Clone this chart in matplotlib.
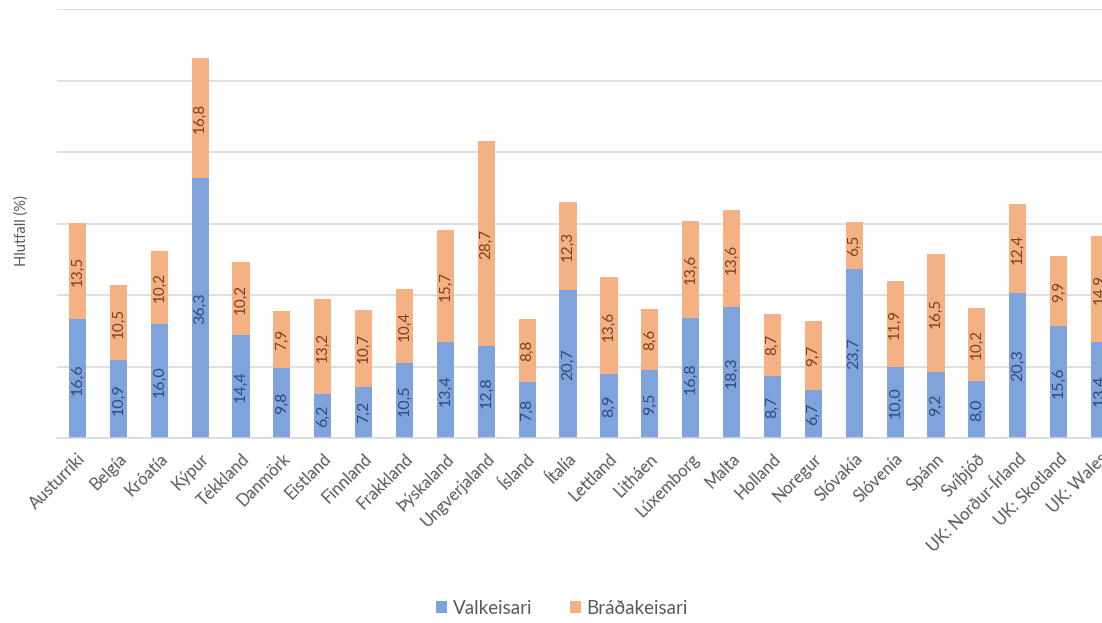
import numpy as np
import matplotlib.pyplot as plt

plt.rcParams['font.family'] = ['Lato', 'DejaVu Sans']

countries = ["Austurríki", "Belgía", "Króatía", "Kýpur", "Tékkland", "Danmörk",
             "Eistland", "Finnland", "Frakkland", "Þýskaland", "Ungverjaland",
             "Ísland", "Ítalía", "Lettland", "Litháen", "Lúxemborg", "Malta",
             "Holland", "Noregur", "Slóvakía", "Slóvenía", "Spánn", "Svíþjóð",
             "UK: Norður-Írland", "UK: Skotland", "UK: Wales"]
valkeisari = [16.6, 10.9, 16.0, 36.3, 14.4, 9.8, 6.2, 7.2, 10.5, 13.4, 12.8,
              7.8, 20.7, 8.9, 9.5, 16.8, 18.3, 8.7, 6.7, 23.7, 10.0, 9.2, 8.0,
              20.3, 15.6, 13.4]
bradakeisari = [13.5, 10.5, 10.2, 16.8, 10.2, 7.9, 13.2, 10.7, 10.4, 15.7, 28.7,
                8.8, 12.3, 13.6, 8.6, 13.6, 13.6, 8.7, 9.7, 6.5, 11.9, 16.5, 10.2,
                12.4, 9.9, 14.9]

blue = "#7fa3dd"
orange = "#f4b183"

fig = plt.figure(figsize=(11.02, 6.23), dpi=100)
# plot area runs past the right edge, so the last bar is cut off
ax = fig.add_axes([57 / 1102, 185 / 623, 1063 / 1102, 429 / 623])

x = np.arange(len(countries))
w = 0.42
b1 = ax.bar(x, valkeisari, w, color=blue, label="Valkeisari", zorder=2)
b2 = ax.bar(x, bradakeisari, w, bottom=valkeisari, color=orange,
            label="Bráðakeisari", zorder=2)

fmt = lambda v: f"{v:.1f}".replace(".", ",")
for xi, v, t in zip(x, valkeisari, bradakeisari):
    ax.text(xi, v / 2, fmt(v), rotation=90, ha="center", va="center",
            fontsize=11.5, color="#2f4a7a", zorder=3)
    ax.text(xi, v + t / 2, fmt(t), rotation=90, ha="center", va="center",
            fontsize=11, color="#7a4020", zorder=3)

ax.set_xlim(-0.5, 25.5)
ax.set_ylim(0, 60)
ax.set_yticks(np.arange(0, 61, 10))
ax.set_yticklabels([])
ax.tick_params(axis="y", length=0)
ax.grid(axis="y", color="#d9d9d9", linewidth=1.2, zorder=0)
for s in ["top", "right", "left"]:
    ax.spines[s].set_visible(False)
ax.spines["bottom"].set_color("#d9d9d9")
ax.spines["bottom"].set_linewidth(1.2)

ax.set_xticks(x)
ax.set_xticklabels(countries, rotation=45, ha="right", rotation_mode="anchor",
                   fontsize=12, color="#595959")
ax.tick_params(axis="x", length=0, pad=9)

fig.text(22 / 1102, 1 - 231 / 623, "Hlutfall (%)", rotation=90, ha="center",
         va="center", fontsize=10.5, color="#595959")

fig.legend(handles=[b1, b2], loc="center", bbox_to_anchor=(562 / 1102, 1 - 608 / 623),
           ncol=2, frameon=False, fontsize=13.5, handlelength=0.6, handleheight=0.6,
           columnspacing=2.0, handletextpad=0.3, labelcolor="#595959")

fig.savefig("out.png", dpi=100, facecolor="white")
